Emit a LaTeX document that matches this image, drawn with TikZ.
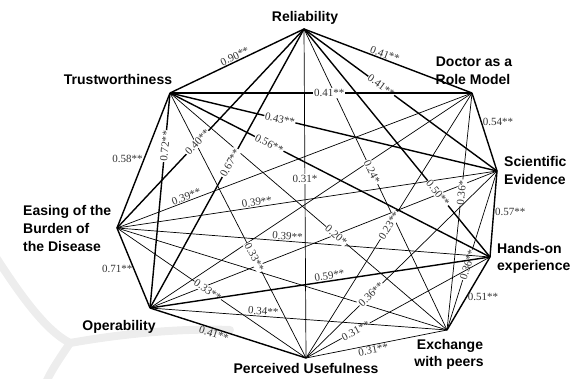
\documentclass[tikz,border=0pt]{standalone}
\usepackage{fontspec}
\setmainfont{Liberation Serif}
\setsansfont{Liberation Sans}
\begin{document}
\begin{tikzpicture}[x=1pt,y=-1pt,
  thk/.style={line width=1.4pt},
  thn/.style={line width=0.7pt},
  elab/.style={font=\fontsize{11}{12}\selectfont, text=black!80, inner sep=0.8pt},
  onl/.style={elab, fill=white, sloped},
  nlab/.style={font=\fontsize{14}{16}\selectfont\sffamily\bfseries, inner sep=0pt},
  wmark/.style={line width=8pt, black!7, line cap=round}]
\useasboundingbox (0,0) rectangle (577,379);
% faint watermark
\coordinate (w0) at (-10,248);
\coordinate (w1) at (70,343);
\coordinate (w2) at (230,330);
\coordinate (w3) at (45,385);
\draw[wmark] (w0) .. controls (20,295) and (45,330) .. (w1);
\draw[wmark] (w1) .. controls (120,334) and (180,328) .. (w2);
\draw[wmark] (w1) .. controls (60,358) and (50,372) .. (w3);
% vertices
\coordinate (R) at (304,29);
\coordinate (D) at (472,93);
\coordinate (S) at (497,171);
\coordinate (H) at (490,257);
\coordinate (E) at (447,330);
\coordinate (P) at (306,358);
\coordinate (O) at (150,308);
\coordinate (B) at (117,228);
\coordinate (T) at (170,93);
% unlabeled edges
\draw[thn] (O) -- (D);
\draw[thn] (O) -- (S);
\draw[thn] (B) -- (E);
% thin labeled edges
\draw[thn] (R) -- node[elab, fill=white, pos=0.456] (l12) {0.31*} (P);
\draw[thn] (R) -- node[onl, pos=0.475] (l13) {0.24*} (E);
\draw[thn] (P) -- node[onl, pos=0.5] (l14) {0.23**} (D);
\draw[thn] (E) -- node[onl, pos=0.58] (l16) {0.36*} (D);
\draw[thn] (E) -- node[onl, pos=0.41] (l18) {0.36**} (S);
\draw[thn] (P) -- node[onl, pos=0.27] (l20) {0.31**} (H);
\draw[thn] (P) -- node[elab, sloped, below, pos=0.47] (l21) {0.31**} (E);
\draw[thn] (O) -- node[elab, sloped, above, pos=0.38] (l23) {0.34**} (E);
\draw[thn] (B) -- node[onl, pos=0.48] (l24) {0.33**} (P);
\draw[thn] (T) -- node[onl, pos=0.62] (l25) {0.33**} (P);
\draw[thn] (B) -- node[elab, sloped, above, pos=0.2] (l28) {0.39**} (D);
\draw[thn] (B) -- node[elab, sloped, above, pos=0.37] (l29) {0.39**} (S);
\draw[thn] (B) -- node[elab, sloped, above, pos=0.456] (l30) {0.39**} (H);
\draw[thn] (T) -- node[onl, pos=0.6] (l31) {0.20*} (E);
\draw[thn] (P) -- node[onl, pos=0.34] (l32) {0.36**} (S);
% thick labeled edges
\draw[thk] (T) -- node[elab, sloped, above, pos=0.5] (l1) {0.90**} (R);
\draw[thk] (R) -- node[elab, sloped, above, pos=0.47] (l2) {0.41**} (D);
\draw[thk] (R) -- node[onl, pos=0.40] (l3) {0.41**} (S);
\draw[thk] (T) -- node[onl, pos=0.527] (l4) {0.41**} (D);
\draw[thk] (D) -- node[elab, anchor=west, pos=0.37] (l5) {0.54**} (S);
\draw[thk] (T) -- node[onl, pos=0.336] (l6) {0.43**} (S);
\draw[thk] (T) -- node[onl, pos=0.31] (l7) {0.56**} (H);
\draw[thk] (B) -- node[elab, anchor=east, pos=0.51] (l8) {0.58**} (T);
\draw[thk] (O) -- node[onl, pos=0.753] (l9) {0.72**} (T);
\draw[thk] (B) -- node[onl, pos=0.43] (l10) {0.40**} (R);
\draw[thk] (O) -- node[onl, pos=0.52] (l11) {0.67**} (R);
\draw[thk] (R) -- node[onl, pos=0.72] (l15) {0.50**} (H);
\draw[thk] (H) -- node[elab, anchor=west, pos=0.52] (l17) {0.57**} (S);
\draw[thk] (E) -- node[elab, anchor=west, pos=0.45] (l19) {0.51**} (H);
\draw[thk] (O) -- node[elab, sloped, above, pos=0.53] (l22) {0.59**} (H);
\draw[thk] (O) -- node[elab, sloped, below, pos=0.42] (l26) {0.41**} (P);
\draw[thk] (B) -- node[elab, anchor=east, pos=0.51] (l27) {0.71**} (O);
% vertex names
\node[nlab, anchor=base] (Rl) at (305,22) {Reliability};
\node[nlab, anchor=base] (Dl1) at (474,67) {Doctor as a};
\node[nlab, anchor=base] (Dl2) at (473,85) {Role Model};
\node[nlab, anchor=base west] (Sl1) at (504,167) {Scientific};
\node[nlab, anchor=base west] (Sl2) at (504,185) {Evidence};
\node[nlab, anchor=base west] (Hl1) at (497,253) {Hands-on};
\node[nlab, anchor=base west] (Hl2) at (497,270) {experience};
\node[nlab, anchor=base] (El1) at (450,349) {Exchange};
\node[nlab, anchor=base] (El2) at (449,366) {with peers};
\node[nlab, anchor=base] (Pl) at (306,373) {Perceived Usefulness};
\node[nlab, anchor=base] (Ol) at (119,330) {Operability};
\node[nlab, anchor=base west] (Bl1) at (23,215) {Easing of the};
\node[nlab, anchor=base west] (Bl2) at (23,233) {Burden of};
\node[nlab, anchor=base west] (Bl3) at (23,251) {the Disease};
\node[nlab, anchor=base] (Tl) at (118,85) {Trustworthiness};
\end{tikzpicture}
\end{document}
